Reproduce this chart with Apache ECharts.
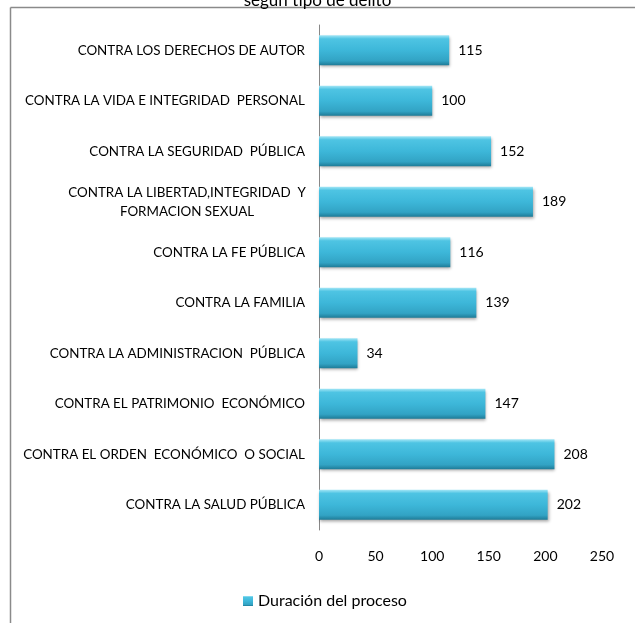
<!DOCTYPE html>
<html><head><meta charset="utf-8">
<script src="https://cdn.jsdelivr.net/npm/echarts@6/dist/echarts.min.js"></script>
<style>html,body{margin:0;padding:0;background:#fff}#c{width:635px;height:623px}</style>
</head><body><div id="c"></div>
<script>
const titleText = 'según tipo de delito';
const seriesName = 'Duración del proceso';
const categories = [
  'CONTRA LOS DERECHOS DE AUTOR',
  'CONTRA LA VIDA E INTEGRIDAD  PERSONAL',
  'CONTRA LA SEGURIDAD  PÚBLICA',
  'CONTRA LA LIBERTAD,INTEGRIDAD  Y\nFORMACION SEXUAL',
  'CONTRA LA FE PÚBLICA',
  'CONTRA LA FAMILIA',
  'CONTRA LA ADMINISTRACION  PÚBLICA',
  'CONTRA EL PATRIMONIO  ECONÓMICO',
  'CONTRA EL ORDEN  ECONÓMICO  O SOCIAL',
  'CONTRA LA SALUD PÚBLICA'
];
const values = [115, 100, 152, 189, 116, 139, 34, 147, 208, 202];
const xTicks = [0, 50, 100, 150, 200, 250];

const font = 'Lato, "Liberation Sans", sans-serif';
const barGrad = new echarts.graphic.LinearGradient(0, 0, 0, 1, [
  {offset: 0, color: '#a3e6f6'},
  {offset: 0.12, color: '#4ec4e3'},
  {offset: 0.5, color: '#3db7d9'},
  {offset: 0.85, color: '#32a3c4'},
  {offset: 1, color: '#1e7b97'}
]);
const chart = echarts.init(document.getElementById('c'));
chart.setOption({
  animation: false,
  title: {text: titleText, left: 'center', top: -13,
    textStyle: {fontFamily: font, fontSize: 17, fontWeight: 'normal', color: '#000'}},
  graphic: [
    {type: 'line', shape: {x1: 10.5, y1: 7.5, x2: 640, y2: 7.5}, style: {stroke: '#8a8a8a', lineWidth: 1.5}},
    {type: 'line', shape: {x1: 10.5, y1: 7.5, x2: 10.5, y2: 630}, style: {stroke: '#8a8a8a', lineWidth: 1.5}}
  ],
  grid: {left: 319, right: 33, top: 25, bottom: 93, containLabel: false},
  legend: {bottom: 9, left: 238, itemWidth: 10, itemHeight: 10, itemGap: 4,
    textStyle: {fontFamily: font, fontSize: 16, color: '#000'},
    data: [{name: seriesName, icon: 'rect'}]},
  xAxis: {type: 'value', min: xTicks[0], max: xTicks[xTicks.length - 1], interval: 50,
    axisLine: {show: false}, axisTick: {show: false}, splitLine: {show: false},
    axisLabel: {fontFamily: font, fontSize: 14, color: '#000', margin: 19}},
  yAxis: {type: 'category', data: categories, inverse: true,
    axisLine: {show: true, lineStyle: {color: '#888', width: 1}},
    axisTick: {show: false},
    axisLabel: {fontFamily: font, fontSize: 13.4, color: '#000', margin: 14, lineHeight: 19,
      formatter: function (v) {
        if (v.indexOf('\n') >= 0) {
          return v.split('\n').map(s => '{c|' + s + '}').join('\n');
        }
        return v;
      },
      rich: {c: {fontFamily: font, fontSize: 13.4, color: '#000', width: 236, align: 'center', lineHeight: 19}}
    }},
  series: [{
    name: seriesName, type: 'bar', data: values, barWidth: 30,
    itemStyle: {color: barGrad, shadowColor: 'rgba(0,0,0,0.35)', shadowBlur: 3, shadowOffsetX: 1, shadowOffsetY: 2},
    label: {show: true, position: 'right', distance: 9, fontFamily: font, fontSize: 14, color: '#000'}
  }]
});
</script></body></html>
